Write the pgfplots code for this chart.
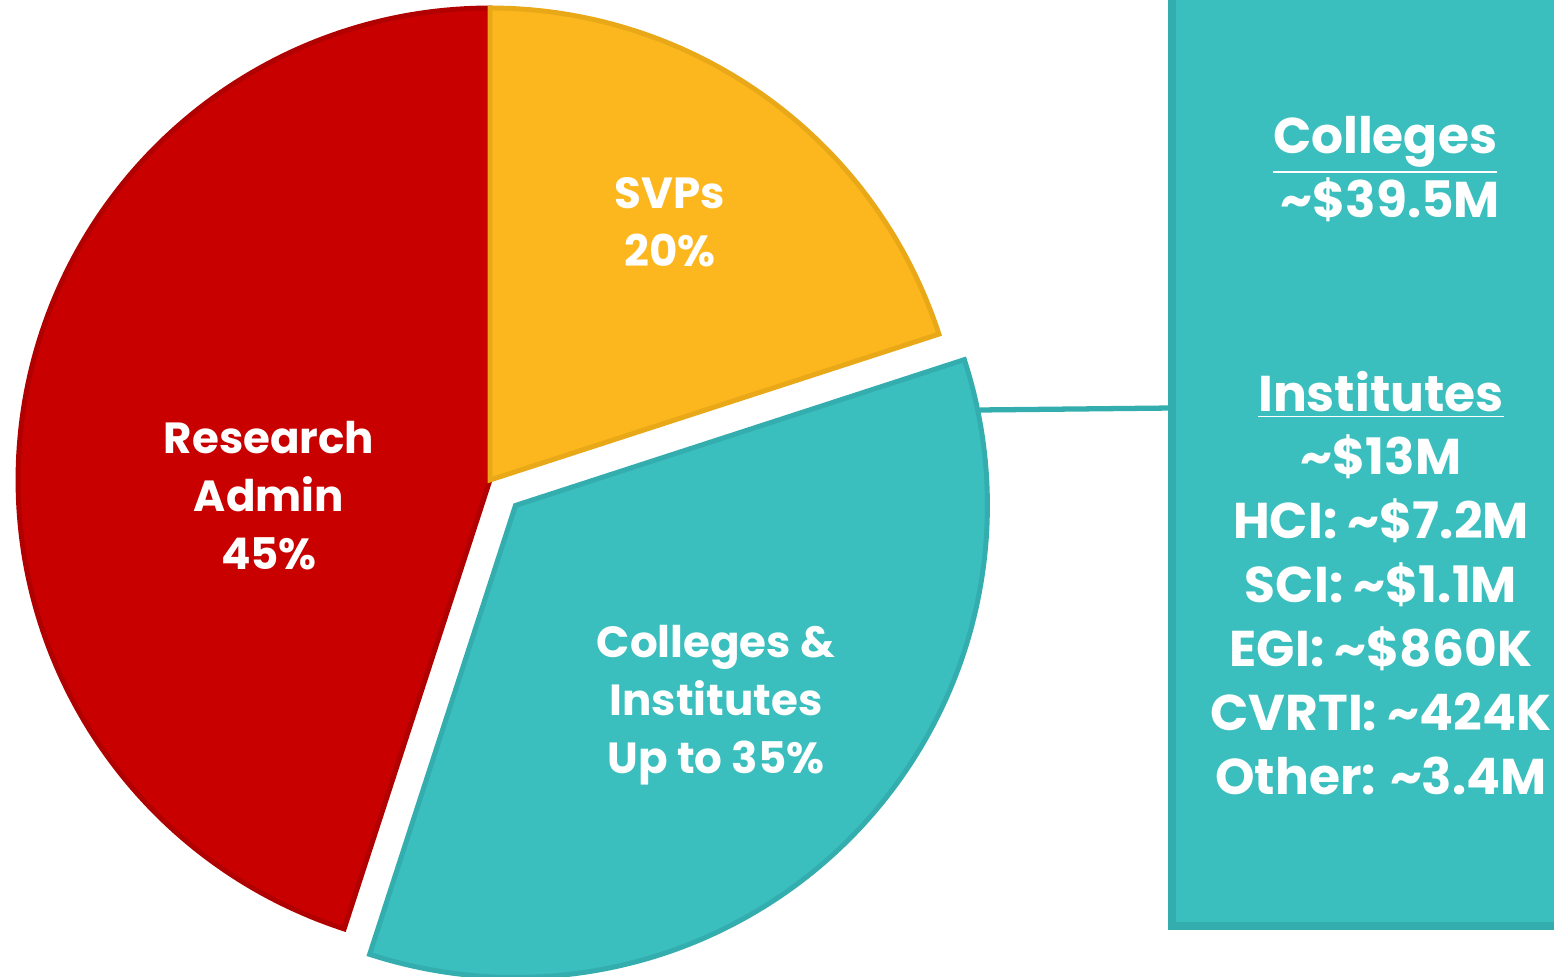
\documentclass[border=0pt]{standalone}
\usepackage{pgfplots}
\pgfplotsset{compat=1.18}
\usepackage{fontspec}
\setmainfont{Poppins}
\definecolor{rred}{HTML}{C80000}
\definecolor{rredD}{HTML}{B00000}
\definecolor{svp}{HTML}{FDB71E}
\definecolor{svpD}{HTML}{E8A818}
\definecolor{teal}{HTML}{3ABEBE}
\definecolor{tealD}{HTML}{33ADAD}
% slice shares (percent)
\def\pRA{45}
\def\pSVP{20}
\def\pCI{35}
\begin{document}
\begin{tikzpicture}
\pgfmathsetmacro{\aA}{90}
\pgfmathsetmacro{\aB}{90-3.6*\pSVP}
\pgfmathsetmacro{\aC}{\aB-3.6*\pCI}
\pgfmathsetmacro{\aD}{\aC-3.6*\pRA}
\pgfmathsetmacro{\mid}{(\aB+\aC)/2}
\pgfmathsetmacro{\cx}{490}
\pgfmathsetmacro{\cy}{496}
\pgfmathsetmacro{\ex}{\cx+36*cos(\mid)}
\pgfmathsetmacro{\ey}{\cy+36*sin(\mid)}
\begin{axis}[scale only axis, width=15.54cm, height=9.76cm,
  xmin=0, xmax=1554, ymin=0, ymax=976, hide axis, clip=true]
% right panel
\draw[tealD, line width=2.2pt, fill=teal] (axis cs:1172,50) rectangle (axis cs:1600,1000);
\draw[tealD, line width=1.5pt] (axis cs:980,566) -- (axis cs:1174,568);
% slices
\addplot[fill=rred, draw=rredD, line width=1.4pt, domain=\aD:\aC, samples=150]
  ({\cx+472*cos(x)},{\cy+472*sin(x)}) -- (axis cs:\cx,\cy) -- cycle;
\addplot[fill=svp, draw=svpD, line width=1.4pt, domain=\aB:\aA, samples=100]
  ({\cx+472*cos(x)},{\cy+472*sin(x)}) -- (axis cs:\cx,\cy) -- cycle;
\addplot[fill=teal, draw=tealD, line width=1.4pt, domain=\aC:\aB, samples=120]
  ({\ex+472*cos(x)},{\ey+472*sin(x)}) -- (axis cs:\ex,\ey) -- cycle;
% labels
\begin{scope}[every node/.style={text=white, font=\bfseries\fontsize{12.4}{16.5}\selectfont, align=center}]
\node at (axis cs:670,754) {SVPs\\20\%};
\node at (axis cs:269,480) {Research\\Admin\\45\%};
\node at (axis cs:716,271) {Colleges \&\\Institutes\\Up to 35\%};
\end{scope}
\begin{scope}[every node/.style={text=white, font=\bfseries\fontsize{14.3}{18.2}\selectfont, align=center}]
\node at (axis cs:1385,807) {\underline{Colleges}\\~\textasciitilde\$39.5M};
\node at (axis cs:1381,393) {\underline{Institutes}\\\textasciitilde\$13M\\HCI: \textasciitilde\$7.2M\\SCI: \textasciitilde\$1.1M\\EGI: \textasciitilde\$860K\\CVRTI: \textasciitilde 424K\\Other: \textasciitilde 3.4M};
\end{scope}
\end{axis}
\pgfresetboundingbox
\path[use as bounding box] (current axis.south west) rectangle (current axis.north east);
\end{tikzpicture}
\end{document}
